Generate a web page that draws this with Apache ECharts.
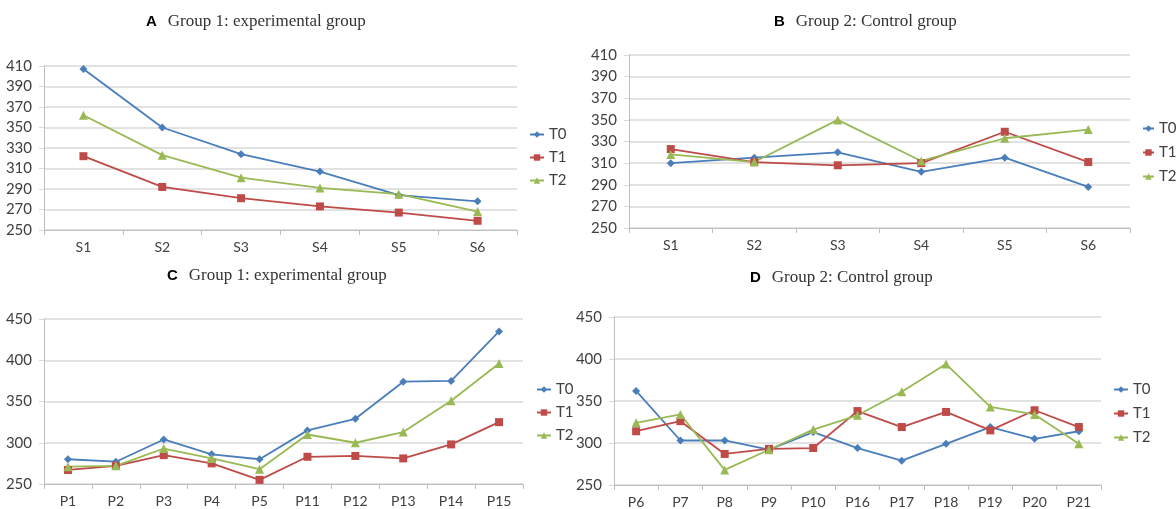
<!DOCTYPE html>
<html>
<head>
<meta charset="utf-8">
<script src="https://cdn.jsdelivr.net/npm/echarts@6/dist/echarts.min.js"></script>
<style>
html,body{margin:0;padding:0;background:#fff;}
#c{width:1176px;height:509px;}
</style>
</head>
<body>
<div id="c"></div>
<script>
// ---- data ----
const catsS = ['S1', 'S2', 'S3', 'S4', 'S5', 'S6'];
const catsC = ['P1', 'P2', 'P3', 'P4', 'P5', 'P11', 'P12', 'P13', 'P14', 'P15'];
const catsD = ['P6', 'P7', 'P8', 'P9', 'P10', 'P16', 'P17', 'P18', 'P19', 'P20', 'P21'];

const aT0 = [407, 350, 324, 307, 284, 278];
const aT1 = [322, 292, 281, 273, 267, 259];
const aT2 = [362, 323, 301, 291, 285, 268];

const bT0 = [310, 315, 320, 302, 315, 288];
const bT1 = [323, 311, 308, 310, 339, 311];
const bT2 = [318, 311, 350, 312, 333, 341];

const cT0 = [280, 277, 304, 286, 280, 315, 329, 374, 375, 435];
const cT1 = [267, 272, 285, 275, 255, 283, 284, 281, 298, 325];
const cT2 = [271, 272, 293, 281, 268, 310, 300, 313, 351, 396];

const dT0 = [362, 303, 303, 292, 313, 294, 279, 299, 319, 305, 314];
const dT1 = [314, 326, 287, 293, 294, 338, 319, 337, 315, 339, 319];
const dT2 = [324, 334, 268, 292, 316, 333, 361, 394, 343, 334, 299];

const seriesNames = ['T0', 'T1', 'T2'];
const titleLetters = ['A', 'B', 'C', 'D'];
const titleTexts = ['Group 1: experimental group', 'Group 2: Control group',
                    'Group 1: experimental group', 'Group 2: Control group'];
const yTicksS = [250, 410, 20];
const yTicksP = [250, 450, 50];

// ---- styling ----
const colors = ['#4A7EBB', '#BE4B48', '#98B954'];
const symbols = ['diamond', 'rect', 'triangle'];
const symbolSizes = [8, 8, 9];
const labelFont = 'Lato';
const gridColor = '#D9D9D9';
const axisColor = '#BFBFBF';
const textColor = '#404040';

const grids = [
  {left: 44, top: 66, width: 473, height: 164},
  {left: 629, top: 55, width: 501, height: 173},
  {left: 44, top: 319, width: 479, height: 165},
  {left: 614, top: 317, width: 487, height: 168}
];
const legendPos = [
  {left: 529, top: 127, itemGap: 8, itemWidth: 14},
  {left: 1142, top: 121, itemGap: 9, itemWidth: 11},
  {left: 536, top: 382, itemGap: 8, itemWidth: 14},
  {left: 1113, top: 382, itemGap: 9, itemWidth: 14}
];
const titlePos = [
  {left: 146, top: 13},
  {left: 774, top: 13},
  {left: 167, top: 267},
  {left: 750, top: 269}
];

const panelCats = [catsS, catsS, catsC, catsD];
const panelY = [yTicksS, yTicksS, yTicksP, yTicksP];
const panelData = [
  [aT0, aT1, aT2],
  [bT0, bT1, bT2],
  [cT0, cT1, cT2],
  [dT0, dT1, dT2]
];

const option = {
  animation: false,
  backgroundColor: '#fff',
  title: titlePos.map((p, i) => ({
    left: p.left, top: p.top, padding: 0,
    text: '{a|' + titleLetters[i] + '}{b|' + titleTexts[i] + '}',
    textStyle: {
      fontWeight: 'normal',
      rich: {
        a: {fontFamily: 'Liberation Sans', fontWeight: 'bold', fontSize: 15, color: '#000', padding: [0, 11, 0, 0]},
        b: {fontFamily: 'Liberation Serif', fontWeight: 'normal', fontSize: 17, color: '#333'}
      }
    }
  })),
  legend: legendPos.map((p, i) => ({
    left: p.left, top: p.top, orient: 'vertical', padding: 0,
    itemGap: p.itemGap, itemWidth: p.itemWidth, itemHeight: 8,
    data: seriesNames,
    selectedMode: false,
    textStyle: {fontFamily: labelFont, fontSize: 15, color: textColor, lineHeight: 14}
  })),
  grid: grids.map(g => Object.assign({containLabel: false}, g)),
  xAxis: panelCats.map((cats, i) => ({
    type: 'category', gridIndex: i, data: cats, boundaryGap: true,
    axisLine: {show: true, lineStyle: {color: axisColor, width: 1}},
    axisTick: {show: true, alignWithLabel: false, length: 5, lineStyle: {color: axisColor}},
    axisLabel: {fontFamily: labelFont, fontSize: 14, color: textColor, margin: 10},
    splitLine: {show: false}
  })),
  yAxis: panelY.map((y, i) => ({
    type: 'value', gridIndex: i, min: y[0], max: y[1], interval: y[2],
    axisLine: {show: true, lineStyle: {color: axisColor, width: 1}},
    axisTick: {show: true, inside: false, length: 5, lineStyle: {color: gridColor}},
    axisLabel: {fontFamily: labelFont, fontSize: 15, color: textColor, margin: 12},
    splitLine: {show: true, lineStyle: {color: gridColor, width: 1.5}}
  })),
  series: []
};

panelData.forEach((sets, pi) => {
  sets.forEach((vals, si) => {
    option.series.push({
      type: 'line', name: seriesNames[si],
      xAxisIndex: pi, yAxisIndex: pi,
      data: vals,
      symbol: symbols[si], symbolSize: symbolSizes[si],
      showAllSymbol: true,
      lineStyle: {color: colors[si], width: 1.8},
      itemStyle: {color: colors[si]},
      z: 3
    });
  });
});

const chart = echarts.init(document.getElementById('c'), null, {renderer: 'canvas'});
chart.setOption(option);
</script>
</body>
</html>
